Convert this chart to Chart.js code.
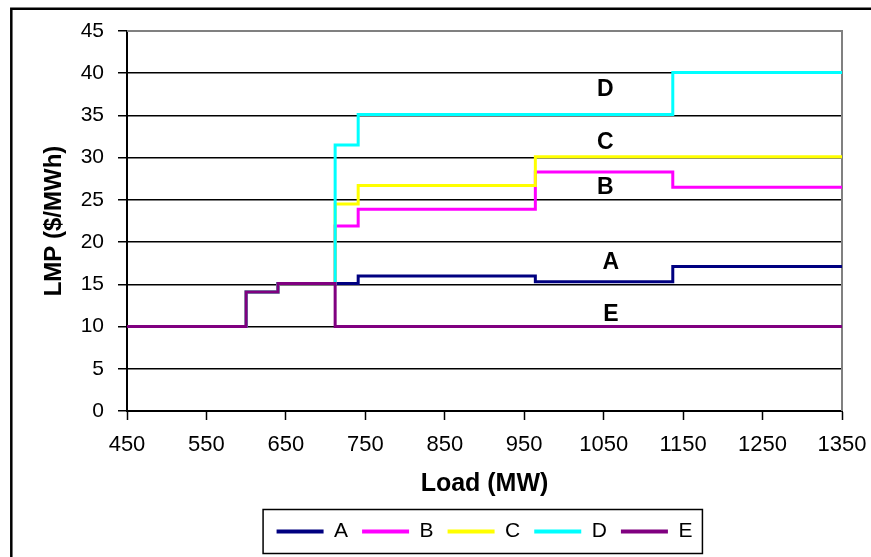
<!DOCTYPE html>
<html>
<head>
<meta charset="utf-8">
<script src="https://cdn.jsdelivr.net/npm/chart.js@4.4.1/dist/chart.umd.min.js"></script>
<style>
  html, body { margin: 0; padding: 0; background: #fff; }
  #lmpChart { display: block; }
</style>
</head>
<body>
<canvas id="lmpChart" width="871" height="557"></canvas>
<script>
// load breakpoints (MW); each price holds from its breakpoint to the next one
const loadSteps = [450, 600, 640, 712, 741, 964, 1137, 1350];
const lmpA = [10, 14.1, 15.1, 15.1, 16.0, 15.3, 17.1, 17.1];
const lmpB = [10, 14.1, 15.1, 21.9, 23.9, 28.3, 26.5, 26.5];
const lmpC = [10, 14.1, 15.1, 24.5, 26.7, 30.1, 30.1, 30.1];
const lmpD = [10, 14.1, 15.1, 31.5, 35.1, 35.1, 40.1, 40.1];
const lmpE = [10, 14.1, 15.1, 10, 10, 10, 10, 10];

const seriesNames = ['A', 'B', 'C', 'D', 'E'];
const seriesValues = [lmpA, lmpB, lmpC, lmpD, lmpE];
const seriesColors = ['#000080', '#ff00ff', '#ffff00', '#00ffff', '#800080'];
// drawing order: E on top, then D, then the rest
const seriesOrder = [4, 3, 2, 1, 0];

// bus names written next to their curves (load, price)
const curveTags = ['D', 'C', 'B', 'A', 'E'];
const curveTagLoad = [1052, 1052, 1052, 1059, 1059];
const curveTagLmp = [38.0, 31.8, 26.4, 17.6, 11.4];

const FONT = "'Liberation Sans', Arial, Helvetica, sans-serif";
Chart.defaults.color = '#000';
Chart.defaults.font.family = FONT;

const decorations = {
  id: 'decorations',
  beforeDraw(chart) {
    const ctx = chart.ctx;
    ctx.save();
    ctx.fillStyle = '#fff';
    ctx.fillRect(0, 0, chart.width, chart.height);
    // outer chart frame
    ctx.strokeStyle = '#000';
    ctx.lineWidth = 2.5;
    ctx.beginPath();
    ctx.moveTo(11.3, chart.height + 5);
    ctx.lineTo(11.3, 8.7);
    ctx.lineTo(chart.width + 5, 8.7);
    ctx.stroke();
    ctx.restore();
  },
  beforeDatasetsDraw(chart) {
    const { ctx, chartArea } = chart;
    ctx.save();
    ctx.strokeStyle = '#808080';
    ctx.lineWidth = 2;
    ctx.beginPath();
    ctx.moveTo(chartArea.left, chartArea.top);
    ctx.lineTo(chartArea.right, chartArea.top);
    ctx.lineTo(chartArea.right, chartArea.bottom);
    ctx.stroke();
    ctx.restore();
  },
  afterDatasetsDraw(chart) {
    const ctx = chart.ctx;
    const xs = chart.scales.x, ys = chart.scales.y;
    ctx.save();
    ctx.fillStyle = '#000';
    ctx.font = 'bold 23px ' + FONT;
    ctx.textAlign = 'center';
    ctx.textBaseline = 'middle';
    curveTags.forEach((t, i) => {
      ctx.fillText(t, xs.getPixelForValue(curveTagLoad[i]), ys.getPixelForValue(curveTagLmp[i]));
    });
    ctx.restore();
  },
  afterDraw(chart) {
    const hb = chart.legend.legendHitBoxes;
    if (!hb.length) return;
    const first = hb[0], last = hb[hb.length - 1];
    const cy = first.top + first.height / 2;
    const ctx = chart.ctx;
    ctx.save();
    ctx.strokeStyle = '#000';
    ctx.lineWidth = 1.5;
    const left = first.left - 13.5;
    const right = last.left + last.width + 10;
    ctx.strokeRect(left, cy - 22, right - left, 44);
    ctx.restore();
  }
};

const datasets = seriesNames.map((name, i) => ({
  label: name,
  data: loadSteps.map((x, j) => ({ x: x, y: seriesValues[i][j] })),
  borderColor: seriesColors[i],
  backgroundColor: seriesColors[i],
  borderWidth: 3,
  stepped: 'before',
  pointRadius: 0,
  fill: false,
  order: seriesOrder[i]
}));

new Chart(document.getElementById('lmpChart'), {
  type: 'line',
  data: { datasets },
  plugins: [decorations],
  options: {
    responsive: false,
    animation: false,
    devicePixelRatio: 1,
    layout: { padding: { left: 0, top: 31, right: 29, bottom: 5 } },
    plugins: {
      tooltip: { enabled: false },
      legend: {
        position: 'bottom',
        fullSize: false,
        labels: {
          boxWidth: 47,
          boxHeight: 4,
          padding: 14,
          color: '#000',
          font: { size: 21, family: FONT },
          generateLabels: (chart) => Chart.defaults.plugins.legend.labels.generateLabels(chart)
            .sort((a, b) => a.datasetIndex - b.datasetIndex)
            .map(l => ({ ...l, fillStyle: l.strokeStyle, lineWidth: 0 }))
        }
      }
    },
    scales: {
      x: {
        type: 'linear',
        min: 450,
        max: 1350,
        afterFit: (scale) => {
          scale.height = 96;
          // end labels fit inside the layout padding already
          scale.paddingLeft = 0;
          scale.paddingRight = 0;
        },
        ticks: { stepSize: 100, padding: 12, maxRotation: 0, font: { size: 22 }, callback: (v) => String(v) },
        grid: { drawOnChartArea: false, drawTicks: true, tickLength: 9, tickColor: '#000', tickWidth: 1.5 },
        border: { display: true, color: '#000', width: 2 },
        title: {
          display: true,
          text: 'Load (MW)',
          font: { size: 25, weight: 'bold' },
          padding: { top: 0, bottom: 8 }
        }
      },
      y: {
        min: 0,
        max: 45,
        afterFit: (scale) => { scale.width = 127; },
        ticks: { stepSize: 5, padding: 14, font: { size: 21 }, callback: (v) => String(v) },
        grid: {
          color: (c) => (c.tick && c.tick.value === 45 ? 'rgba(0,0,0,0)' : '#000'),
          lineWidth: 1.5,
          tickLength: 9,
          tickColor: '#000',
          tickWidth: 1.5
        },
        border: { display: true, color: '#000', width: 2 },
        title: {
          display: true,
          text: 'LMP ($/MWh)',
          font: { size: 24, weight: 'bold' },
          padding: { top: 40, bottom: 0 }
        }
      }
    }
  }
});
</script>
</body>
</html>
